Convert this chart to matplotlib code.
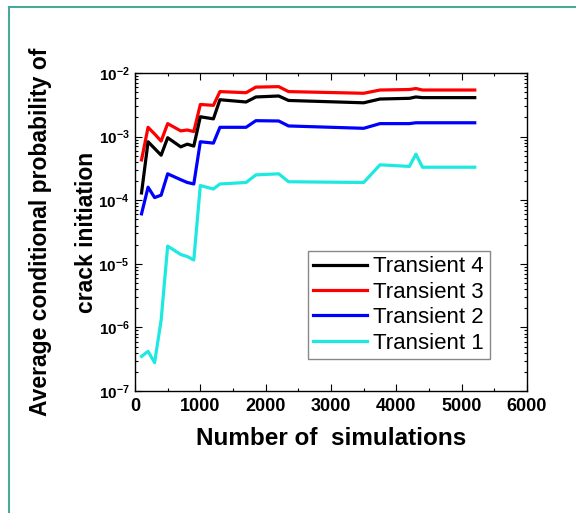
import matplotlib
matplotlib.use("Agg")
import matplotlib.pyplot as plt
from matplotlib.lines import Line2D
from matplotlib.ticker import LogLocator, FuncFormatter, MultipleLocator, NullFormatter
import numpy as np

plt.rcParams["font.family"] = ["Liberation Sans", "DejaVu Sans"]
plt.rcParams["mathtext.fontset"] = "custom"
plt.rcParams["mathtext.bf"] = "Liberation Sans:bold"
plt.rcParams["mathtext.rm"] = "Liberation Sans"

# Number of simulations (shared x for all transients)
n_sim = [100, 200, 300, 400, 500, 700, 800, 900, 1000, 1200, 1300, 1700,
         1850, 2200, 2350, 3500, 3750, 4200, 4300, 4400, 5200]

transient4 = [1.3e-4, 8.3e-4, 6.5e-4, 5.1e-4, 9.6e-4, 6.9e-4, 7.6e-4, 7.1e-4,
              2.05e-3, 1.9e-3, 3.8e-3, 3.5e-3, 4.2e-3, 4.35e-3, 3.7e-3, 3.4e-3,
              3.9e-3, 4.0e-3, 4.2e-3, 4.1e-3, 4.1e-3]
transient3 = [4.3e-4, 1.4e-3, 1.1e-3, 8.5e-4, 1.6e-3, 1.23e-3, 1.27e-3, 1.2e-3,
              3.2e-3, 3.1e-3, 5.1e-3, 4.9e-3, 6.0e-3, 6.1e-3, 5.1e-3, 4.8e-3,
              5.4e-3, 5.5e-3, 5.7e-3, 5.4e-3, 5.4e-3]
transient2 = [6.1e-5, 1.6e-4, 1.1e-4, 1.2e-4, 2.6e-4, 2.1e-4, 1.9e-4, 1.8e-4,
              8.3e-4, 7.9e-4, 1.4e-3, 1.4e-3, 1.78e-3, 1.76e-3, 1.47e-3, 1.35e-3,
              1.6e-3, 1.6e-3, 1.65e-3, 1.65e-3, 1.65e-3]
transient1 = [3.5e-7, 4.2e-7, 2.8e-7, 1.3e-6, 1.9e-5, 1.4e-5, 1.3e-5, 1.15e-5,
              1.7e-4, 1.5e-4, 1.8e-4, 1.9e-4, 2.5e-4, 2.6e-4, 1.95e-4, 1.9e-4,
              3.6e-4, 3.4e-4, 5.3e-4, 3.3e-4, 3.3e-4]

series = [("Transient 4", transient4, "black"),
          ("Transient 3", transient3, "#ff0000"),
          ("Transient 2", transient2, "#0000ff"),
          ("Transient 1", transient1, "#1ee8e2")]

fig = plt.figure(figsize=(5.76, 5.13), dpi=100)
ax = fig.add_axes([135 / 576, 1 - 391 / 513, 392 / 576, 318 / 513])

# draw cyan first so the darker lines sit on top
for name, vals, col in reversed(series):
    ax.plot(n_sim, vals, color=col, lw=2.3, label=name)

ax.set_yscale("log")
ax.set_xlim(0, 6000)
ax.set_ylim(1e-7, 1e-2)

ax.xaxis.set_major_locator(MultipleLocator(1000))
ax.xaxis.set_minor_locator(MultipleLocator(500))
ax.yaxis.set_major_locator(LogLocator(base=10, numticks=10))
ax.yaxis.set_minor_locator(LogLocator(base=10, subs=np.arange(2, 10), numticks=20))
ax.yaxis.set_minor_formatter(NullFormatter())
ax.yaxis.set_major_formatter(FuncFormatter(
    lambda v, p: r"$\mathbf{10^{%d}}$" % int(round(np.log10(v)))))

ax.tick_params(which="both", direction="in", top=True, right=True, width=0.8)
ax.tick_params(which="major", length=5, pad=4)
ax.tick_params(which="minor", length=2.5)
ax.tick_params(axis="x", labelsize=13, pad=5)
ax.tick_params(axis="y", labelsize=11)
for lbl in ax.get_xticklabels():
    lbl.set_fontweight("bold")
for s in ax.spines.values():
    s.set_linewidth(1.0)

ax.set_xlabel("Number of  simulations", fontsize=17.5, fontweight="bold", labelpad=9)
ax.set_ylabel("Average conditional probability of\ncrack initiation",
              fontsize=16.5, fontweight="bold", labelpad=0, linespacing=2.3)

handles = [Line2D([], [], color=col, lw=2.3) for _, _, col in series]
ax.legend(handles, [n for n, _, _ in series], loc="lower right",
          bbox_to_anchor=(0.905, 0.10), fontsize=16, frameon=True,
          fancybox=False, edgecolor="#888888", framealpha=1,
          handlelength=2.4, handletextpad=0.3, labelspacing=0.2,
          borderpad=0.25, borderaxespad=0)

# teal frame around the panel (only top and left edges are visible)
fig.add_artist(Line2D([9 / 576, 9 / 576], [0, 1 - 7 / 513], color="#4aa79a", lw=1.5))
fig.add_artist(Line2D([9 / 576, 1], [1 - 7 / 513, 1 - 7 / 513], color="#4aa79a", lw=1.5))

fig.savefig("out.png", dpi=100)
